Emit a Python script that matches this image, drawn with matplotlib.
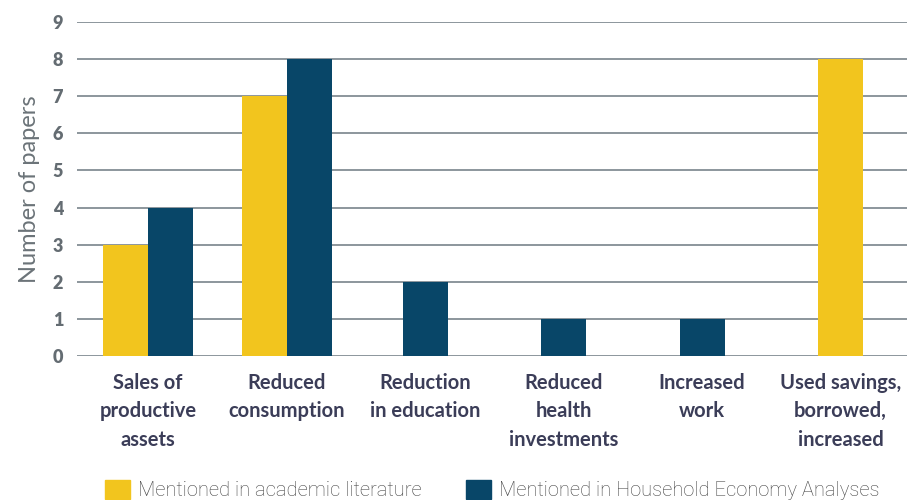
import matplotlib
matplotlib.use("Agg")
import matplotlib.pyplot as plt
import numpy as np
from matplotlib.patches import Patch

categories = ["Sales of\nproductive\nassets", "Reduced\nconsumption", "Reduction\nin education",
              "Reduced\nhealth\ninvestments", "Increased\nwork", "Used savings,\nborrowed,\nincreased"]
academic = [3, 7, 0, 0, 0, 8]
hea = [4, 8, 2, 1, 1, 0]
series_names = ["Mentioned in academic literature", "Mentioned in Household Economy Analyses"]

yellow = "#F2C51E"
navy = "#084668"
grid_col = "#8C969C"
colors = [yellow, navy]

fig = plt.figure(figsize=(9.07, 5.0), dpi=100)
ax = fig.add_axes([0.085, 0.288, 0.915, 0.668])

x = np.arange(len(categories))
w = 0.325
# bars with zero value are left out and the remaining bars are centred on the category
for i in range(len(categories)):
    vals = [(academic[i], colors[0]), (hea[i], colors[1])]
    vals = [v for v in vals if v[0] > 0]
    n = len(vals)
    for k, (v, c) in enumerate(vals):
        ax.bar(x[i] + (k - (n - 1) / 2) * w, v, w, color=c, zorder=3)

ax.set_xlim(-0.513, 5.48)
ax.set_ylim(0, 9)
ax.set_yticks(range(10), labels=[str(v) for v in range(10)], fontweight="heavy",
              family="Lato", fontsize=13, color="#646C72")
ax.yaxis.grid(True, color=grid_col, linewidth=1.4, zorder=0)
for s in ax.spines.values():
    s.set_visible(False)
ax.tick_params(axis="y", length=0, pad=10)
ax.set_xticks(x)
ax.set_xticklabels(categories, fontsize=14.5, fontweight="bold", color="#3B3D58",
                   family="Lato", linespacing=1.55)
ax.tick_params(axis="x", length=0, pad=12)
ax.set_ylabel("Number of papers", fontsize=17, color="#6B7378", family="Lato", labelpad=9)

handles = [Patch(color=yellow), Patch(color=navy)]
fig.legend(handles, series_names, loc="lower left", bbox_to_anchor=(0.1158, -0.001), ncol=2,
           frameon=False, borderpad=0, borderaxespad=0,
           handlelength=1.25, handleheight=1.1, handletextpad=0.4,
           columnspacing=2.2, prop={"family": "Roboto", "weight": "light", "size": 14.5},
           labelcolor="#444444")

fig.savefig("out.png", dpi=100)
